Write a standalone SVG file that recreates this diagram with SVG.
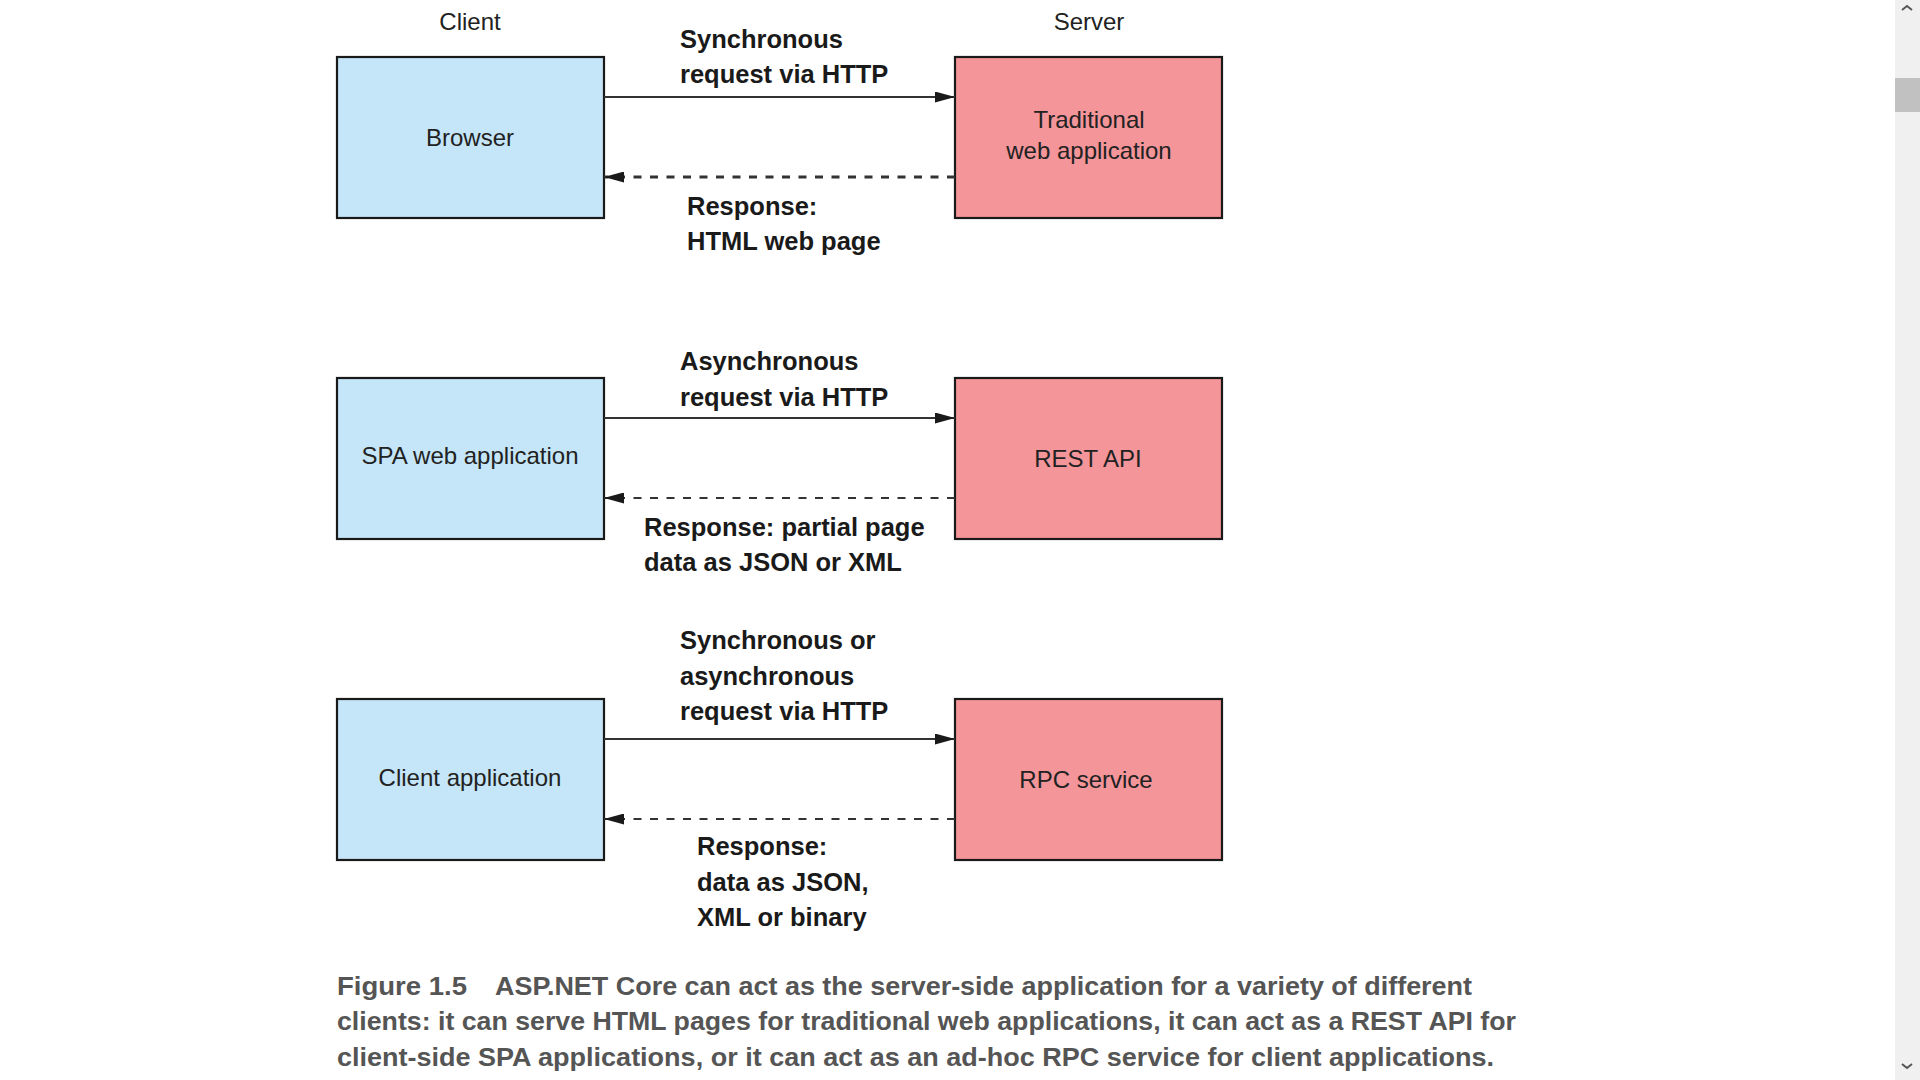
<svg xmlns="http://www.w3.org/2000/svg" width="1920" height="1080" viewBox="0 0 1920 1080">
<style>
.client{fill:#c5e6f8;stroke:#1a1a1a;stroke-width:2.2}
.server{fill:#f4959a;stroke:#1a1a1a;stroke-width:2.2}
.lbl{font-family:"Liberation Sans",Arial,sans-serif;font-size:24px;fill:#222;text-anchor:middle}
.hdr{font-family:"Liberation Sans",Arial,sans-serif;font-size:24px;fill:#222;text-anchor:middle}
.conn{font-family:"Liberation Sans",Arial,sans-serif;font-size:25.5px;font-weight:bold;fill:#1a1a1a}
.req{stroke:#333;stroke-width:2;fill:none;marker-end:url(#ah)}
.resp{stroke:#333;stroke-width:2;fill:none;stroke-dasharray:8 8.5;marker-end:url(#ah)}
.resp.thick{stroke-width:3}
.cap{font-family:"Liberation Sans",Arial,sans-serif;font-size:26px;font-weight:bold;fill:#555}
</style>
<defs>
<marker id="ah" viewBox="0 0 20 11" refX="20" refY="5.5" markerWidth="20" markerHeight="11" markerUnits="userSpaceOnUse" orient="auto">
<path d="M0,0 L20,5.5 L0,11 z" fill="#1a1a1a"/>
</marker>
</defs>
<rect width="1920" height="1080" fill="#fff"/>
<text class="hdr" x="470" y="30">Client</text>
<text class="hdr" x="1089" y="30">Server</text>

<g id="browser"><rect class="client" x="337" y="57" width="267" height="161"/><text class="lbl" x="470" y="146">Browser</text></g>
<g id="traditional"><rect class="server" x="955" y="57" width="267" height="161"/><text class="lbl" x="1089" y="128">Traditional</text><text class="lbl" x="1089" y="159">web application</text></g>
<g id="spa"><rect class="client" x="337" y="378" width="267" height="161"/><text class="lbl" x="470" y="464">SPA web application</text></g>
<g id="rest"><rect class="server" x="955" y="378" width="267" height="161"/><text class="lbl" x="1088" y="467">REST API</text></g>
<g id="clientapp"><rect class="client" x="337" y="699" width="267" height="161"/><text class="lbl" x="470" y="786">Client application</text></g>
<g id="rpc"><rect class="server" x="955" y="699" width="267" height="161"/><text class="lbl" x="1086" y="788">RPC service</text></g>

<g id="connectors">
<path class="req" d="M604,97 H955"/>
<path class="resp thick" d="M955,177 H604"/>
<path class="req" d="M604,418 H955"/>
<path class="resp" d="M955,498 H604"/>
<path class="req" d="M604,739 H955"/>
<path class="resp" d="M955,819 H604"/>
<text class="conn" x="680" y="48">Synchronous</text>
<text class="conn" x="680" y="83">request via HTTP</text>
<text class="conn" x="687" y="215">Response:</text>
<text class="conn" x="687" y="250">HTML web page</text>
<text class="conn" x="680" y="370">Asynchronous</text>
<text class="conn" x="680" y="406">request via HTTP</text>
<text class="conn" x="644" y="536">Response: partial page</text>
<text class="conn" x="644" y="571">data as JSON or XML</text>
<text class="conn" x="680" y="649">Synchronous or</text>
<text class="conn" x="680" y="685">asynchronous</text>
<text class="conn" x="680" y="720">request via HTTP</text>
<text class="conn" x="697" y="855">Response:</text>
<text class="conn" x="697" y="891">data as JSON,</text>
<text class="conn" x="697" y="926">XML or binary</text>
</g>

<g id="caption">
<text class="cap" x="337" y="995" textLength="130" lengthAdjust="spacingAndGlyphs">Figure 1.5</text>
<text class="cap" x="495" y="995" textLength="977" lengthAdjust="spacingAndGlyphs">ASP.NET Core can act as the server-side application for a variety of different</text>
<text class="cap" x="337" y="1030" textLength="1179" lengthAdjust="spacingAndGlyphs">clients: it can serve HTML pages for traditional web applications, it can act as a REST API for</text>
<text class="cap" x="337" y="1066" textLength="1157" lengthAdjust="spacingAndGlyphs">client-side SPA applications, or it can act as an ad-hoc RPC service for client applications.</text>
</g>

<g id="scrollbar">
<rect x="1895" y="0" width="25" height="1080" fill="#f0f0f0"/>
<rect x="1895" y="78" width="25" height="34" fill="#c1c1c1"/>
<path d="M1902,10 L1907,6 L1912,10" stroke="#555" stroke-width="2" fill="none"/>
<path d="M1902,1064 L1907,1068 L1912,1064" stroke="#555" stroke-width="2" fill="none"/>
</g>
</svg>
